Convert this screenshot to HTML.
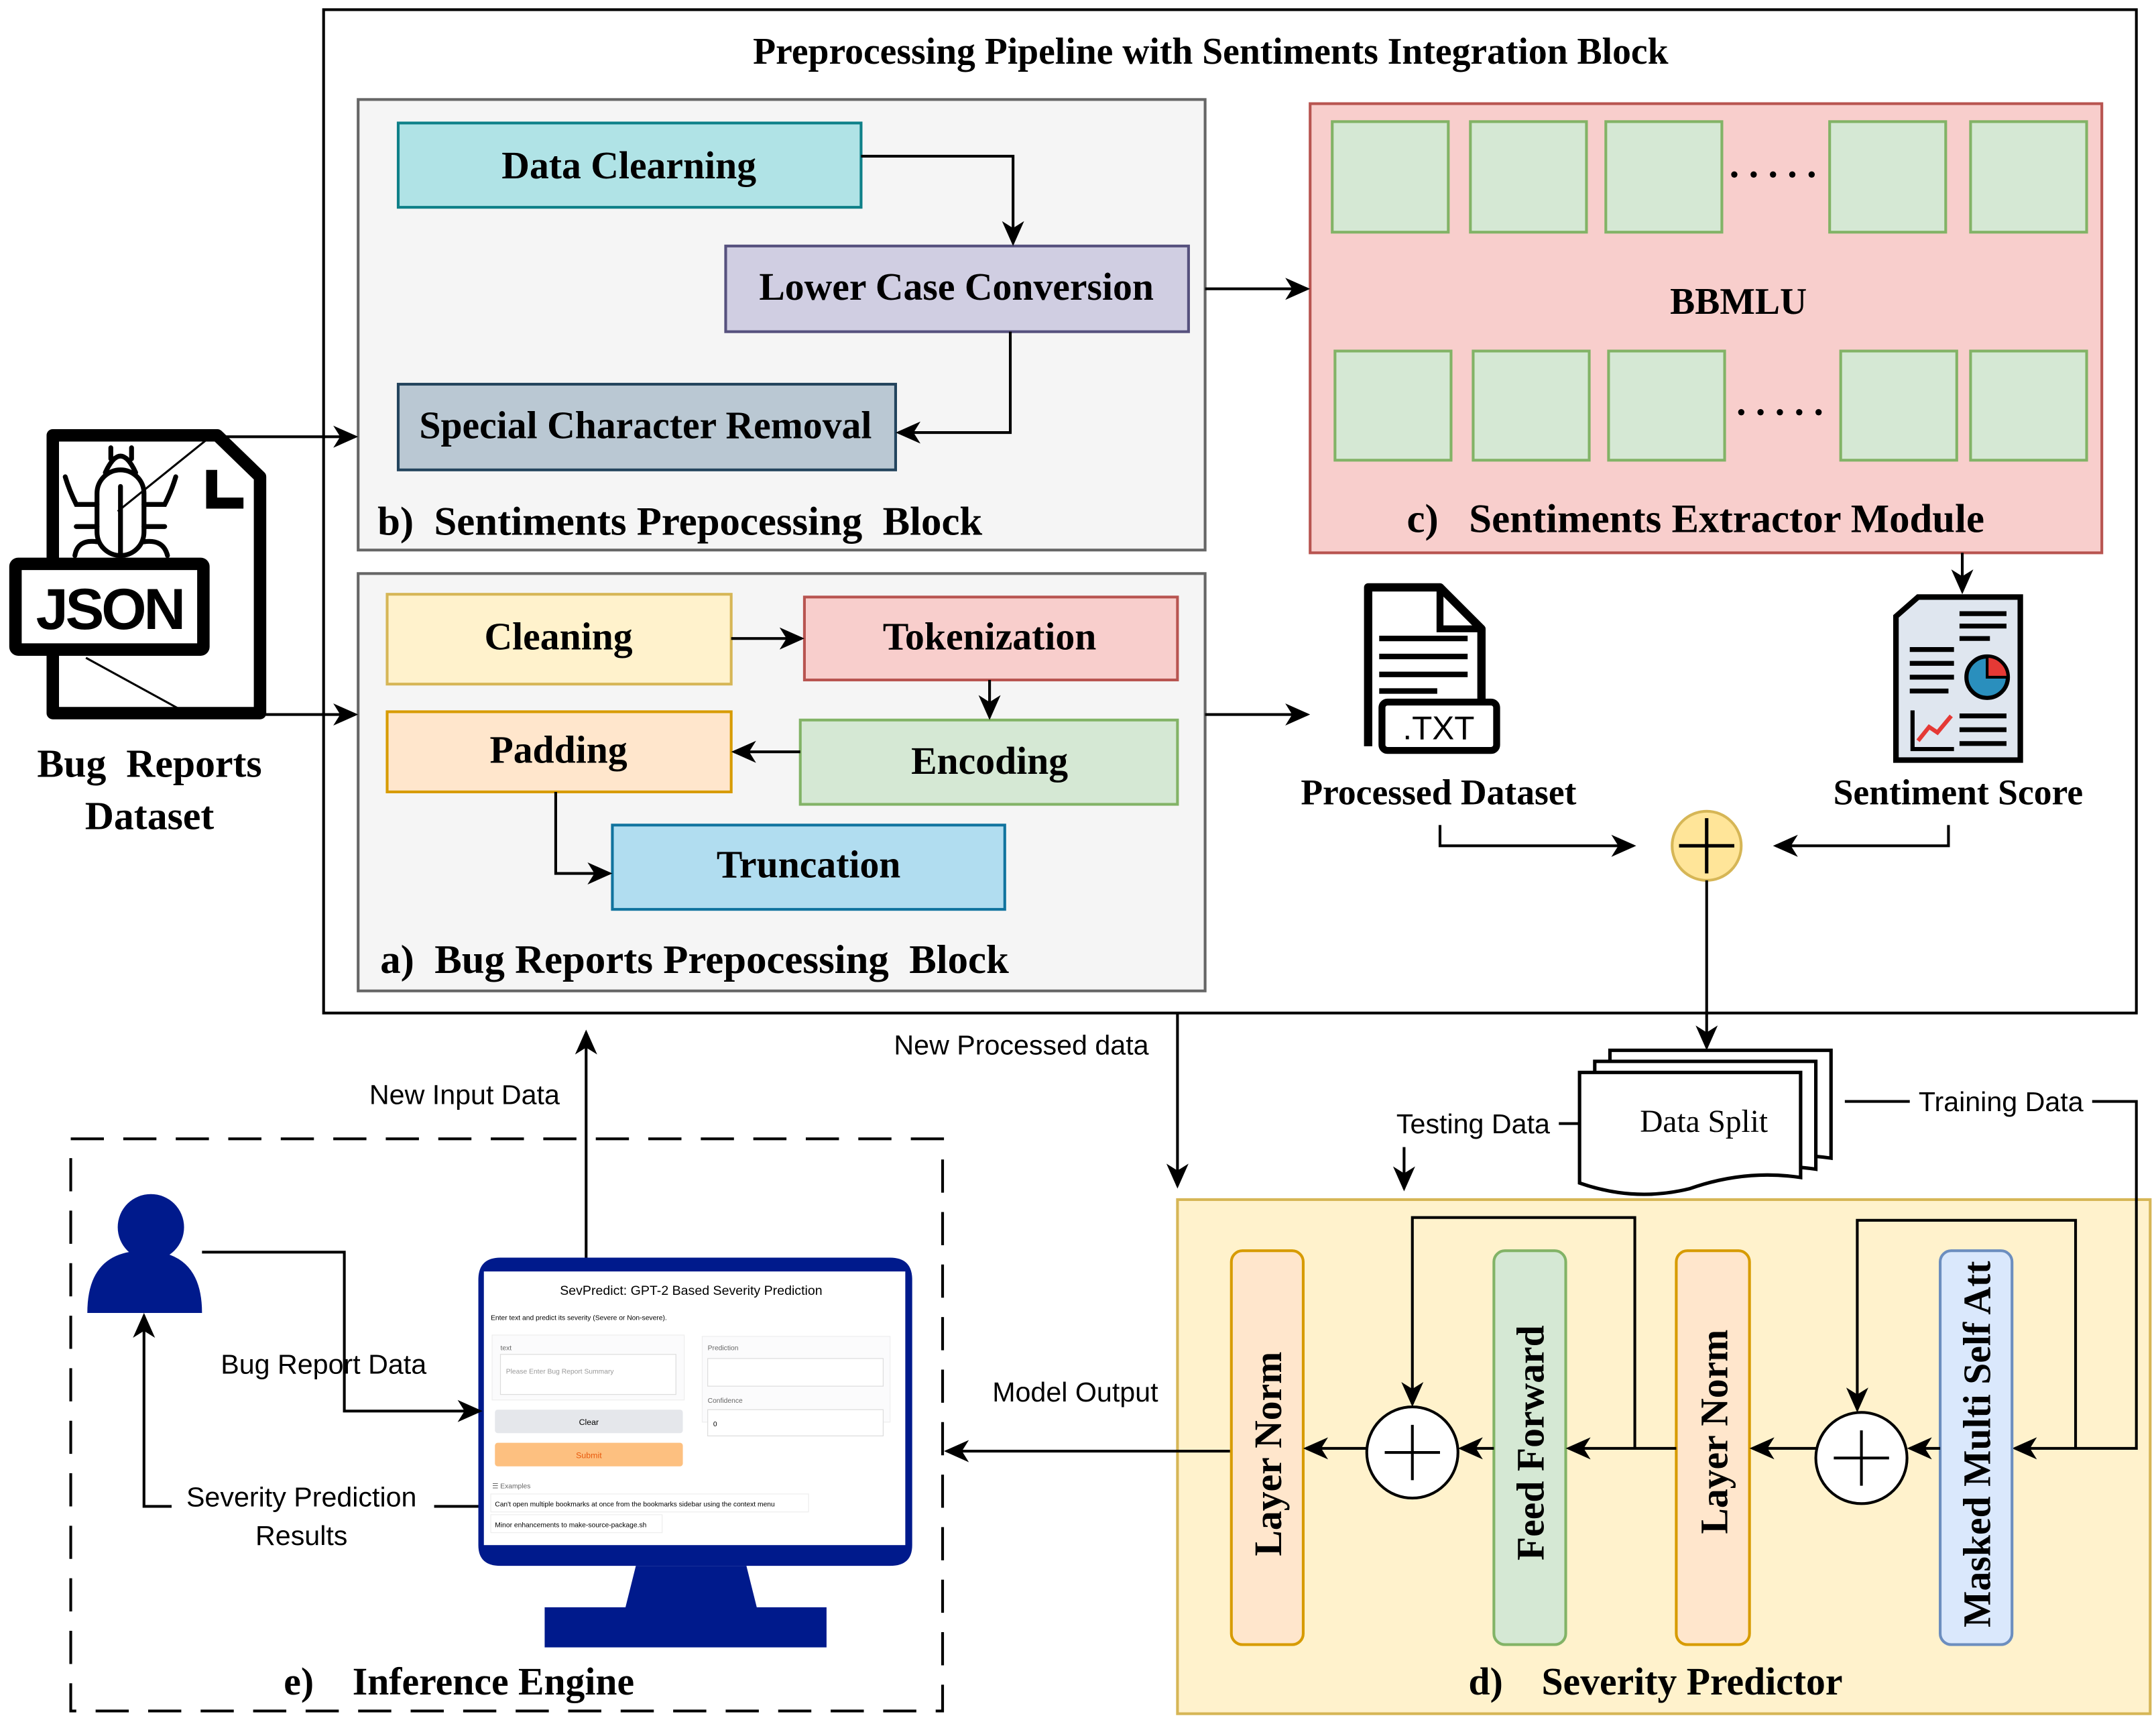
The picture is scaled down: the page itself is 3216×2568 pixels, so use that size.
<!DOCTYPE html>
<html><head><meta charset="utf-8"><style>html,body{margin:0;padding:0;background:#fff}svg{display:block}</style></head>
<body>
<svg xmlns="http://www.w3.org/2000/svg" width="3216" height="2568" viewBox="0 0 1560 1246">
<defs>
<marker id="b" markerWidth="18" markerHeight="18" refX="16" refY="9" orient="auto" markerUnits="userSpaceOnUse" viewBox="0 0 18 18"><path d="M0,1 L18,9 L0,17 L5,9 z" fill="#000"/></marker>
</defs>
<style>
.s{font-family:"Liberation Serif",serif;font-weight:bold;fill:#000}
.t{font-family:"Liberation Sans",sans-serif;fill:#000;font-size:20px}
.l{fill:none;stroke:#000;stroke-width:2}
</style>
<rect width="1560" height="1246" fill="#fff"/>
<rect x="234" y="7" width="1312" height="726" fill="#fff" stroke="#000" stroke-width="2"/>
<text class="s" x="876" y="46" font-size="27" text-anchor="middle">Preprocessing Pipeline with Sentiments Integration Block</text>
<!-- b -->
<rect x="259" y="72" width="613" height="326" fill="#f5f5f5" stroke="#666" stroke-width="2"/>
<rect x="288" y="89" width="335" height="61" fill="#b0e3e6" stroke="#0e8088" stroke-width="2"/>
<text class="s" x="455" y="129" font-size="28" text-anchor="middle">Data Clearning</text>
<rect x="525" y="178" width="335" height="62" fill="#d0cee2" stroke="#56517e" stroke-width="2"/>
<text class="s" x="692" y="217" font-size="28" text-anchor="middle">Lower Case Conversion</text>
<rect x="288" y="278" width="360" height="62" fill="#bac8d3" stroke="#23445d" stroke-width="2"/>
<text class="s" x="467" y="317" font-size="28" text-anchor="middle">Special Character Removal</text>
<path class="l" d="M623,113 H733 V176" marker-end="url(#b)"/>
<path class="l" d="M731,240 V313 H650" marker-end="url(#b)"/>
<text class="s" x="273" y="387" font-size="29.5" xml:space="preserve">b)  Sentiments Prepocessing  Block</text>
<!-- c -->
<rect x="948" y="75" width="573" height="325" fill="#f8cecc" stroke="#b85450" stroke-width="2"/>
<g fill="#d5e8d4" stroke="#82b366" stroke-width="2">
<rect x="964" y="88" width="84" height="80"/><rect x="1064" y="88" width="84" height="80"/><rect x="1162" y="88" width="84" height="80"/><rect x="1324" y="88" width="84" height="80"/><rect x="1426" y="88" width="84" height="80"/>
<rect x="966" y="254" width="84" height="79"/><rect x="1066" y="254" width="84" height="79"/><rect x="1164" y="254" width="84" height="79"/><rect x="1332" y="254" width="84" height="79"/><rect x="1426" y="254" width="84" height="79"/>
</g>
<text class="s" x="1283" y="128" font-size="28" text-anchor="middle">. . . . .</text>
<text class="s" x="1288" y="300" font-size="28" text-anchor="middle">. . . . .</text>
<text class="s" x="1258" y="227" font-size="27" text-anchor="middle">BBMLU</text>
<text class="s" x="1018" y="385" font-size="29.5" xml:space="preserve">c)   Sentiments Extractor Module</text>
<path class="l" d="M872,209 H946" marker-end="url(#b)"/>
<!-- a -->
<rect x="259" y="415" width="613" height="302" fill="#f5f5f5" stroke="#666" stroke-width="2"/>
<rect x="280" y="430" width="249" height="65" fill="#fff2cc" stroke="#d6b656" stroke-width="2"/>
<text class="s" x="404" y="470" font-size="28" text-anchor="middle">Cleaning</text>
<rect x="582" y="432" width="270" height="60" fill="#f8cecc" stroke="#b85450" stroke-width="2"/>
<text class="s" x="716" y="470" font-size="28" text-anchor="middle">Tokenization</text>
<rect x="280" y="515" width="249" height="58" fill="#ffe6cc" stroke="#d79b00" stroke-width="2"/>
<text class="s" x="404" y="552" font-size="28" text-anchor="middle">Padding</text>
<rect x="579" y="521" width="273" height="61" fill="#d5e8d4" stroke="#82b366" stroke-width="2"/>
<text class="s" x="716" y="560" font-size="28" text-anchor="middle">Encoding</text>
<rect x="443" y="597" width="284" height="61" fill="#b1ddf0" stroke="#10739e" stroke-width="2"/>
<text class="s" x="585" y="635" font-size="28" text-anchor="middle">Truncation</text>
<path class="l" d="M529,462 H580" marker-end="url(#b)"/>
<path class="l" d="M716,492 V519" marker-end="url(#b)"/>
<path class="l" d="M579,544 H531" marker-end="url(#b)"/>
<path class="l" d="M402,573 V632 H441" marker-end="url(#b)"/>
<text class="s" x="275" y="704" font-size="29.5" xml:space="preserve">a)  Bug Reports Prepocessing  Block</text>
<path class="l" d="M872,517 H946" marker-end="url(#b)"/>
<!-- JSON icon -->
<path d="M38,516 V315 H157 L188,345 V516 Z" fill="#fff" stroke="#000" stroke-width="9" stroke-linejoin="round"/>
<path d="M153,340 V364 H176" fill="none" stroke="#000" stroke-width="8"/>
<rect x="11" y="408" width="136" height="62" fill="#fff" stroke="#000" stroke-width="9" rx="2"/>
<text x="79" y="455" font-family="Liberation Sans,sans-serif" font-weight="bold" font-size="42" text-anchor="middle" fill="#000" letter-spacing="-2">JSON</text>
<g fill="none" stroke="#000" stroke-width="3.5" stroke-linecap="round">
<rect x="70" y="340" width="34" height="62" rx="17"/><path d="M76,342 Q87,318 98,342"/><path d="M87,352 V402"/>
<path d="M80,332 V324 M95,332 V324 M70,365 H55 Q50,355 47,345 M104,365 H119 Q124,355 127,345 M70,381 H55 M104,381 H119 M70,392 Q56,390 54,402 M104,392 Q118,390 121,402"/>
</g>
<path d="M152,316 L85,370 M62,476 L135,516" stroke="#000" stroke-width="1.5"/>
<path class="l" d="M160,316 H257" marker-end="url(#b)"/>
<path class="l" d="M192,517 H257" marker-end="url(#b)"/>
<text class="s" x="108" y="562" font-size="29" text-anchor="middle" xml:space="preserve">Bug  Reports</text>
<text class="s" x="108" y="600" font-size="29" text-anchor="middle">Dataset</text>
<!-- TXT icon -->
<path d="M990,540 V425 H1042 L1072,455 V510" fill="#fff" stroke="#000" stroke-width="6" stroke-linejoin="round"/>
<path d="M1042,425 V455 H1072" fill="none" stroke="#000" stroke-width="5"/>
<g stroke="#000" stroke-width="4"><path d="M998,462 H1062 M998,475 H1062 M998,488 H1062 M998,500 H1040"/></g>
<rect x="1000" y="508" width="83" height="35" rx="4" fill="#fff" stroke="#000" stroke-width="5"/>
<text x="1041" y="535" font-family="Liberation Sans,sans-serif" font-size="24" text-anchor="middle" fill="#000">.TXT</text>
<text class="s" x="1041" y="582" font-size="26" text-anchor="middle">Processed Dataset</text>
<!-- Sentiment score icon -->
<path d="M1372,550 V446 L1388,432 H1462 V550 Z" fill="#dfe6ef" stroke="#000" stroke-width="4"/>
<g stroke="#000" stroke-width="3.5"><path d="M1418,444 H1452 M1418,453 H1452 M1418,462 H1440 M1382,470 H1414 M1382,480 H1414 M1382,490 H1414 M1382,500 H1410 M1418,518 H1452 M1418,528 H1452 M1418,538 H1452"/></g>
<circle cx="1438" cy="490" r="15" fill="#2a8fbd" stroke="#000" stroke-width="3"/>
<path d="M1438,490 V475 A15,15 0 0 1 1453,490 Z" fill="#e53935" stroke="#000" stroke-width="2"/>
<path d="M1384,514 V542 H1414" fill="none" stroke="#000" stroke-width="3"/>
<path d="M1388,536 L1396,526 L1402,530 L1412,518" fill="none" stroke="#e53935" stroke-width="3"/>
<path class="l" d="M1420,400 V428" marker-end="url(#b)"/>
<text class="s" x="1417" y="582" font-size="26" text-anchor="middle">Sentiment Score</text>
<!-- plus -->
<circle cx="1235" cy="612" r="25" fill="#ffe599" stroke="#d6b656" stroke-width="2"/>
<path d="M1235,592 V632 M1215,612 H1255" stroke="#000" stroke-width="2.5"/>
<path class="l" d="M1042,597 V612 H1182" marker-end="url(#b)"/>
<path class="l" d="M1410,597 V612 H1285" marker-end="url(#b)"/>
<path class="l" d="M1235,637 V758" marker-end="url(#b)"/>
<!-- Data split -->
<g fill="#fff" stroke="#000" stroke-width="2.5">
<path d="M1165,760 H1325 V838 Q1285,832 1245,846 Q1205,856 1165,842 Z"/>
<path d="M1154,768 H1314 V846 Q1274,840 1234,854 Q1194,864 1154,850 Z"/>
<path d="M1143,776 H1303 V852 Q1263,846 1223,860 Q1183,870 1143,856 Z"/>
</g>
<text x="1233" y="819" font-family="Liberation Serif,serif" font-size="23" text-anchor="middle">Data Split</text>
<text class="t" x="739" y="763" text-anchor="middle">New Processed data</text>
<path class="l" d="M852,733 V858" marker-end="url(#b)"/>
<text class="t" x="1066" y="820" text-anchor="middle">Testing Data</text>
<path class="l" d="M1128,813 H1143"/>
<path class="l" d="M1016,830 V860" marker-end="url(#b)"/>
<!-- d -->
<rect x="852" y="868" width="704" height="372" fill="#fff2cc" stroke="#d6b656" stroke-width="2"/>
<path class="l" d="M1335,797 H1382 M1514,797 H1546 V1048 H1458" marker-end="url(#b)"/>
<text class="t" x="1448" y="804" text-anchor="middle">Training Data</text>
<rect x="891" y="905" width="52" height="285" rx="8" fill="#ffe6cc" stroke="#d79b00" stroke-width="2"/>
<rect x="1081" y="905" width="52" height="285" rx="8" fill="#d5e8d4" stroke="#82b366" stroke-width="2"/>
<rect x="1213" y="905" width="53" height="285" rx="8" fill="#ffe6cc" stroke="#d79b00" stroke-width="2"/>
<rect x="1404" y="905" width="52" height="285" rx="8" fill="#dae8fc" stroke="#6c8ebf" stroke-width="2"/>
<text class="s" font-size="28" transform="translate(927,1052) rotate(-90)" text-anchor="middle">Layer Norm</text>
<text class="s" font-size="28" transform="translate(1117,1044) rotate(-90)" text-anchor="middle">Feed Forward</text>
<text class="s" font-size="28" transform="translate(1250,1036) rotate(-90)" text-anchor="middle">Layer Norm</text>
<text class="s" font-size="28" transform="translate(1440,1045) rotate(-90)" text-anchor="middle">Masked Multi Self Att</text>
<circle cx="1022" cy="1051" r="33" fill="#fff" stroke="#000" stroke-width="2"/>
<path d="M1022,1031 V1071 M1002,1051 H1042" stroke="#000" stroke-width="2"/>
<circle cx="1347" cy="1055" r="33" fill="#fff" stroke="#000" stroke-width="2"/>
<path d="M1347,1035 V1075 M1327,1055 H1367" stroke="#000" stroke-width="2"/>
<path class="l" d="M1404,1048 H1382" marker-end="url(#b)"/>
<path class="l" d="M1314,1048 H1268" marker-end="url(#b)"/>
<path class="l" d="M1213,1048 H1135" marker-end="url(#b)"/>
<path class="l" d="M1081,1048 H1057" marker-end="url(#b)"/>
<path class="l" d="M989,1048 H945" marker-end="url(#b)"/>
<path class="l" d="M1502,1048 V883 H1344 V1020" marker-end="url(#b)"/>
<path class="l" d="M1183,1048 V881 H1022 V1016" marker-end="url(#b)"/>
<text class="s" x="1198" y="1226" font-size="28" text-anchor="middle" xml:space="preserve">d)    Severity Predictor</text>
<path class="l" d="M890,1050 H685" marker-end="url(#b)"/>
<text class="t" x="778" y="1014" text-anchor="middle">Model Output</text>
<!-- e -->
<rect x="51" y="824" width="631" height="414" fill="none" stroke="#000" stroke-width="2" stroke-dasharray="24,14"/>
<g fill="#001a8c"><circle cx="109" cy="888" r="24"/><path d="M63,950 Q63,905 104,905 Q146,905 146,950 Z"/></g>
<path d="M362,910 H644 Q660,910 660,926 V1118 Q660,1133 644,1133 H362 Q346,1133 346,1118 V926 Q346,910 362,910 Z" fill="#001a8c"/>
<rect x="350" y="920" width="305" height="198" fill="#fff"/>
<path d="M460,1133 H540 L548,1165 H452 Z" fill="#001a8c"/>
<rect x="394" y="1163" width="204" height="29" fill="#001a8c"/>
<g font-family="Liberation Sans,sans-serif">
<text x="500" y="937" font-size="9.5" text-anchor="middle">SevPredict: GPT-2 Based Severity Prediction</text>
<text x="355" y="955" font-size="5">Enter text and predict its severity (Severe or Non-severe).</text>
<rect x="356" y="966" width="139" height="47" fill="#fbfbfc" stroke="#eee" stroke-width="0.6"/>
<rect x="362" y="980" width="127" height="29" fill="#fff" stroke="#ddd" stroke-width="0.6"/>
<text x="362" y="977" font-size="5" fill="#666">text</text>
<text x="366" y="994" font-size="5" fill="#999">Please Enter Bug Report Summary</text>
<rect x="358" y="1020" width="136" height="17" rx="2" fill="#e5e7eb"/>
<text x="426" y="1031" font-size="6" text-anchor="middle">Clear</text>
<rect x="358" y="1044" width="136" height="17" rx="2" fill="#fdc080"/>
<text x="426" y="1055" font-size="6" text-anchor="middle" fill="#e8590c">Submit</text>
<rect x="508" y="967" width="136" height="62" fill="#fbfbfc" stroke="#eee" stroke-width="0.6"/>
<text x="512" y="977" font-size="5" fill="#666">Prediction</text>
<rect x="512" y="983" width="127" height="20" fill="#fff" stroke="#ddd" stroke-width="0.6"/>
<text x="512" y="1015" font-size="5" fill="#666">Confidence</text>
<rect x="512" y="1020" width="127" height="19" fill="#fff" stroke="#ddd" stroke-width="0.6"/>
<text x="516" y="1032" font-size="5">0</text>
<text x="356" y="1077" font-size="5" fill="#666">☰ Examples</text>
<rect x="355" y="1081" width="230" height="13" fill="#fff" stroke="#eee" stroke-width="0.6"/>
<text x="358" y="1090" font-size="5">Can't open multiple bookmarks at once from the bookmarks sidebar using the context menu</text>
<rect x="355" y="1096" width="124" height="13" fill="#fff" stroke="#eee" stroke-width="0.6"/>
<text x="358" y="1105" font-size="5">Minor enhancements to make-source-package.sh</text>
</g>
<path class="l" d="M146,906 H249 V1021 H347" marker-end="url(#b)"/>
<text class="t" x="234" y="994" text-anchor="middle">Bug Report Data</text>
<path class="l" d="M346,1090 H104 V952" marker-end="url(#b)"/>
<rect x="124" y="1074" width="190" height="22" fill="#fff"/>
<text class="t" x="218" y="1090" text-anchor="middle">Severity Prediction</text>
<text class="t" x="218" y="1118" text-anchor="middle">Results</text>
<path class="l" d="M424,910 V747" marker-end="url(#b)"/>
<text class="t" x="336" y="799" text-anchor="middle">New Input Data</text>
<text class="s" x="332" y="1226" font-size="28" text-anchor="middle" xml:space="preserve">e)    Inference Engine</text>
</svg>
</body></html>
